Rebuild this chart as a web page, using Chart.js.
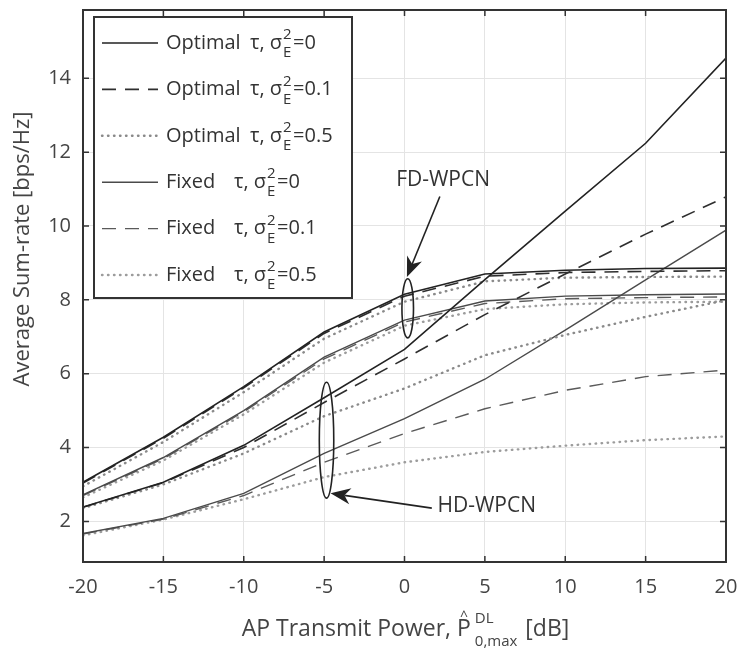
<!DOCTYPE html>
<html>
<head>
<meta charset="utf-8">
<script src="https://cdn.jsdelivr.net/npm/chart.js@4.4.1/dist/chart.umd.min.js"></script>
<style>
  html, body { margin: 0; padding: 0; background: #fff; }
</style>
</head>
<body>
<canvas id="chart" width="738" height="660"></canvas>
<script>
// AP transmit power [dB]
const power_db = [-20, -15, -10, -5, 0, 5, 10, 15, 20];

// FD-WPCN curves
const fd_opt_0   = [3.06, 4.28, 5.65, 7.13, 8.15, 8.70, 8.80, 8.85, 8.86];
const fd_opt_01  = [3.04, 4.25, 5.62, 7.09, 8.10, 8.64, 8.74, 8.77, 8.79];
const fd_opt_05  = [2.95, 4.15, 5.50, 6.95, 7.95, 8.50, 8.60, 8.62, 8.63];
const fd_fix_0   = [2.72, 3.73, 5.00, 6.45, 7.45, 7.97, 8.10, 8.14, 8.16];
const fd_fix_01  = [2.70, 3.70, 4.97, 6.40, 7.40, 7.90, 8.03, 8.06, 8.08];
const fd_fix_05  = [2.65, 3.65, 4.90, 6.30, 7.30, 7.75, 7.88, 7.93, 7.95];

// HD-WPCN curves
const hd_opt_0   = [2.39, 3.06, 4.06, 5.35, 6.66, 8.55, 10.40, 12.24, 14.55];
const hd_opt_01  = [2.38, 3.05, 4.00, 5.22, 6.40, 7.60, 8.70, 9.78, 10.79];
const hd_opt_05  = [2.36, 3.00, 3.84, 4.85, 5.60, 6.50, 7.05, 7.54, 7.99];
const hd_fix_0   = [1.67, 2.08, 2.76, 3.84, 4.78, 5.85, 7.18, 8.54, 9.89];
const hd_fix_01  = [1.66, 2.06, 2.70, 3.60, 4.38, 5.05, 5.55, 5.92, 6.10];
const hd_fix_05  = [1.62, 2.05, 2.60, 3.20, 3.60, 3.88, 4.05, 4.20, 4.30];

const x_ticks = [-20, -15, -10, -5, 0, 5, 10, 15, 20];
const y_ticks = [2, 4, 6, 8, 10, 12, 14];

const legend_names = ['Optimal', 'Optimal', 'Optimal', 'Fixed', 'Fixed', 'Fixed'];
const legend_sigma = ['0', '0.1', '0.5', '0', '0.1', '0.5'];

const FONT = '"Open Sans", "Noto Sans", sans-serif';

// line styles for the six legend entries
const styles = [
  { color: '#222', dash: [], width: 1.6 },
  { color: '#2e2e2e', dash: [14, 9], width: 1.6 },
  { color: '#8a8a8a', dash: [0.5, 5.5], width: 2.4 },
  { color: '#4a4a4a', dash: [], width: 1.4 },
  { color: '#5a5a5a', dash: [14, 9], width: 1.4 },
  { color: '#9c9c9c', dash: [0.5, 5.5], width: 2.4 }
];

function toPoints(arr) {
  return power_db.map((x, i) => ({ x: x, y: arr[i] }));
}

const series = [
  [fd_opt_0, hd_opt_0],
  [fd_opt_01, hd_opt_01],
  [fd_opt_05, hd_opt_05],
  [fd_fix_0, hd_fix_0],
  [fd_fix_01, hd_fix_01],
  [fd_fix_05, hd_fix_05]
];

const datasets = [];
series.forEach((pair, k) => {
  pair.forEach(arr => {
    datasets.push({
      data: toPoints(arr),
      borderColor: styles[k].color,
      borderWidth: styles[k].width,
      borderDash: styles[k].dash,
      borderCapStyle: styles[k].dash.length && styles[k].dash[0] < 1 ? 'round' : 'butt',
      pointRadius: 0,
      tension: 0,
      fill: false
    });
  });
});

function arrow(ctx, x1, y1, x2, y2) {
  const ang = Math.atan2(y2 - y1, x2 - x1);
  const len = 20, half = 8, back = 6;
  ctx.beginPath();
  ctx.moveTo(x1, y1);
  ctx.lineTo(x2 - Math.cos(ang) * (len - back), y2 - Math.sin(ang) * (len - back));
  ctx.stroke();
  ctx.save();
  ctx.translate(x2, y2);
  ctx.rotate(ang);
  ctx.beginPath();
  ctx.moveTo(0, 0);
  ctx.lineTo(-len, -half);
  ctx.lineTo(-len + back, 0);
  ctx.lineTo(-len, half);
  ctx.closePath();
  ctx.fill();
  ctx.restore();
}

const decor = {
  id: 'decor',
  afterDatasetsDraw(chart) {
    const { ctx, chartArea: a, scales: { x, y } } = chart;
    ctx.save();

    // annotations
    ctx.strokeStyle = '#222';
    ctx.fillStyle = '#222';
    ctx.lineWidth = 1.6;
    ctx.setLineDash([]);
    const ell = (cx, cy, rx, ry) => {
      const px = x.getPixelForValue(cx), py = y.getPixelForValue(cy);
      const prx = Math.abs(x.getPixelForValue(cx + rx) - px);
      const pry = Math.abs(y.getPixelForValue(cy + ry) - py);
      ctx.beginPath();
      ctx.ellipse(px, py, prx, pry, 0, 0, Math.PI * 2);
      ctx.stroke();
    };
    ell(0.2, 7.77, 0.36, 0.8);
    ell(-4.85, 4.2, 0.45, 1.57);

    arrow(ctx, x.getPixelForValue(2.2), y.getPixelForValue(10.8),
               x.getPixelForValue(0.15), y.getPixelForValue(8.62));
    arrow(ctx, x.getPixelForValue(1.7), y.getPixelForValue(2.36),
               x.getPixelForValue(-4.6), y.getPixelForValue(2.76));

    ctx.font = '21px ' + FONT;
    ctx.fillStyle = '#333';
    ctx.textBaseline = 'middle';
    ctx.textAlign = 'center';
    ctx.fillText('FD-WPCN', x.getPixelForValue(2.4), y.getPixelForValue(11.25));
    ctx.textAlign = 'left';
    ctx.fillText('HD-WPCN', x.getPixelForValue(2.05), y.getPixelForValue(2.42));

    // legend box
    const lx = a.left + 11, ly = a.top + 7, lw = 258, lh = 281;
    ctx.fillStyle = '#fff';
    ctx.fillRect(lx, ly, lw, lh);
    ctx.strokeStyle = '#333';
    ctx.lineWidth = 2;
    ctx.strokeRect(lx, ly, lw, lh);

    for (let i = 0; i < 6; i++) {
      const yy = ly + 26 + i * 46.4;
      const st = styles[i];
      ctx.strokeStyle = st.color;
      ctx.lineWidth = st.width;
      ctx.setLineDash(st.dash);
      ctx.lineCap = st.dash.length && st.dash[0] < 1 ? 'round' : 'butt';
      ctx.beginPath();
      ctx.moveTo(lx + 8, yy);
      ctx.lineTo(lx + 64, yy);
      ctx.stroke();
      ctx.setLineDash([]);
      ctx.lineCap = 'butt';

      ctx.fillStyle = '#333';
      ctx.textAlign = 'left';
      ctx.textBaseline = 'middle';
      ctx.font = '20px ' + FONT;
      let tx = lx + 72;
      ctx.fillText(legend_names[i], tx, yy);
      tx += i < 3 ? 84 : 68;
      const part = 'τ, σ';
      ctx.fillText(part, tx, yy);
      tx += ctx.measureText(part).width + 1;
      ctx.font = '15px ' + FONT;
      ctx.fillText('2', tx, yy - 8);
      ctx.fillText('E', tx, yy + 10);
      tx += 10;
      ctx.font = '20px ' + FONT;
      ctx.fillText('=' + legend_sigma[i], tx, yy);
    }

    ctx.restore();
  },
  afterDraw(chart) {
    const { ctx, chartArea: a, scales: { x, y } } = chart;
    ctx.save();
    ctx.strokeStyle = '#333';
    ctx.lineWidth = 1.5;
    // inward ticks
    ctx.beginPath();
    x_ticks.forEach(v => {
      const px = x.getPixelForValue(v);
      ctx.moveTo(px, a.bottom); ctx.lineTo(px, a.bottom - 6);
      ctx.moveTo(px, a.top); ctx.lineTo(px, a.top + 6);
    });
    y_ticks.forEach(v => {
      const py = y.getPixelForValue(v);
      ctx.moveTo(a.left, py); ctx.lineTo(a.left + 6, py);
      ctx.moveTo(a.right, py); ctx.lineTo(a.right - 6, py);
    });
    ctx.stroke();
    // axes box
    ctx.lineWidth = 2;
    ctx.strokeRect(a.left, a.top, a.right - a.left, a.bottom - a.top);

    // y axis title
    ctx.fillStyle = '#444';
    ctx.font = '22px ' + FONT;
    ctx.textAlign = 'center';
    ctx.textBaseline = 'middle';
    ctx.save();
    ctx.translate(23, 249);
    ctx.rotate(-Math.PI / 2);
    ctx.fillText('Average Sum-rate [bps/Hz]', 0, 0);
    ctx.restore();

    // x axis title with math
    ctx.textBaseline = 'alphabetic';
    ctx.textAlign = 'left';
    const base = 636;
    ctx.font = '23px ' + FONT;
    const t1 = 'AP Transmit Power, ';
    const t2 = ' [dB]';
    const w1 = ctx.measureText(t1).width;
    const wP = ctx.measureText('P').width;
    const w2 = ctx.measureText(t2).width;
    ctx.font = '15px ' + FONT;
    const wSup = ctx.measureText('DL').width;
    const wSub = ctx.measureText('0,max').width;
    const total = w1 + wP + 4 + Math.max(wSup, wSub) + w2;
    let tx = (a.left + a.right) / 2 - total / 2;
    ctx.font = '23px ' + FONT;
    ctx.fillText(t1, tx, base);
    tx += w1;
    ctx.fillText('P', tx, base);
    ctx.font = '14px ' + FONT;
    ctx.textAlign = 'center';
    ctx.fillText('^', tx + wP / 2, base - 15);
    ctx.textAlign = 'left';
    tx += wP + 4;
    ctx.font = '15px ' + FONT;
    ctx.fillText('DL', tx, base - 13);
    ctx.fillText('0,max', tx, base + 10);
    tx += Math.max(wSup, wSub) + 2;
    ctx.font = '23px ' + FONT;
    ctx.fillText(t2, tx, base);
    ctx.restore();
  }
};

const chart = new Chart(document.getElementById('chart'), {
  type: 'line',
  data: { datasets: datasets },
  plugins: [decor],
  options: {
    responsive: false,
    animation: false,
    devicePixelRatio: 1,
    layout: { padding: { left: 0, top: 10, right: 12, bottom: 0 } },
    plugins: {
      legend: { display: false },
      tooltip: { enabled: false }
    },
    scales: {
      x: {
        type: 'linear',
        min: -20,
        max: 20,
        afterBuildTicks: s => { s.ticks = x_ticks.map(v => ({ value: v })); },
        afterFit: s => { s.height = 98; s.paddingLeft = 0; s.paddingRight = 0; },
        grid: { color: '#e4e4e4', lineWidth: 1, drawTicks: false },
        border: { display: false },
        ticks: { color: '#444', font: { family: FONT, size: 20 }, padding: 13, maxRotation: 0 }
      },
      y: {
        type: 'linear',
        min: 0.9,
        max: 15.85,
        afterBuildTicks: s => { s.ticks = y_ticks.map(v => ({ value: v })); },
        afterFit: s => { s.width = 83; s.paddingTop = 0; s.paddingBottom = 0; },
        grid: { color: '#e4e4e4', lineWidth: 1, drawTicks: false },
        border: { display: false },
        ticks: { color: '#444', font: { family: FONT, size: 20 }, padding: 12 }
      }
    }
  }
});
</script>
</body>
</html>
